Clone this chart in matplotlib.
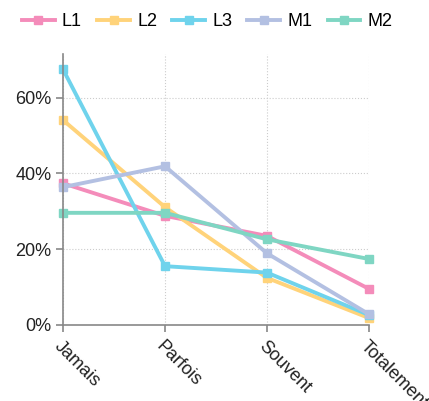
import matplotlib
matplotlib.use('Agg')
import matplotlib.pyplot as plt
from matplotlib.ticker import FuncFormatter
import numpy as np

categories = ['Jamais', 'Parfois', 'Souvent', 'Totalement']
series_names = ['L1', 'L2', 'L3', 'M1', 'M2']
l1 = [37.4, 28.8, 23.5, 9.5]
l2 = [54.1, 31.1, 12.4, 1.8]
l3 = [67.5, 15.5, 13.8, 2.6]
m1 = [36.4, 41.9, 18.9, 2.8]
m2 = [29.6, 29.6, 22.6, 17.4]
colors = ['#f48cba', '#ffd37a', '#6fd3ec', '#b3c0e2', '#7fd6c3']

plt.rcParams['font.family'] = ['Liberation Sans', 'DejaVu Sans']

fig = plt.figure(figsize=(4.29, 4.01), dpi=100)
ax = fig.add_axes([0.147, 0.19, 0.713, 0.675])

x = np.arange(len(categories))
for name, vals, c in zip(series_names, [l1, l2, l3, m1, m2], colors):
    ax.plot(x, vals, color=c, lw=2.8, marker='s', markersize=6,
            label=name, solid_joinstyle='round', clip_on=False)

ax.set_xlim(0, len(categories) - 1)
ax.set_ylim(0, max(l3) * 1.06)
ax.set_yticks([0, 20, 40, 60])
ax.yaxis.set_major_formatter(FuncFormatter(lambda v, p: f'{v:.0f}%'))
ax.set_xticks(x)
ax.set_xticklabels(categories, rotation=-45, ha='left', va='top',
                   rotation_mode='anchor')

ax.grid(True, color='#cccccc', linestyle=':', linewidth=0.8)
ax.set_axisbelow(True)
for s in ['top', 'right']:
    ax.spines[s].set_visible(False)
for s in ['left', 'bottom']:
    ax.spines[s].set_color('#888888')
    ax.spines[s].set_linewidth(1.2)
ax.tick_params(colors='#888888', labelcolor='#222222', labelsize=13,
               length=5, width=1.2)
ax.tick_params(axis='x', pad=4)

fig.legend(loc='upper left', bbox_to_anchor=(0.035, 0.985), ncol=5,
           frameon=False, fontsize=13, handlelength=1.8,
           handletextpad=0.4, columnspacing=0.85, borderaxespad=0)

fig.savefig('out.png', dpi=100)
